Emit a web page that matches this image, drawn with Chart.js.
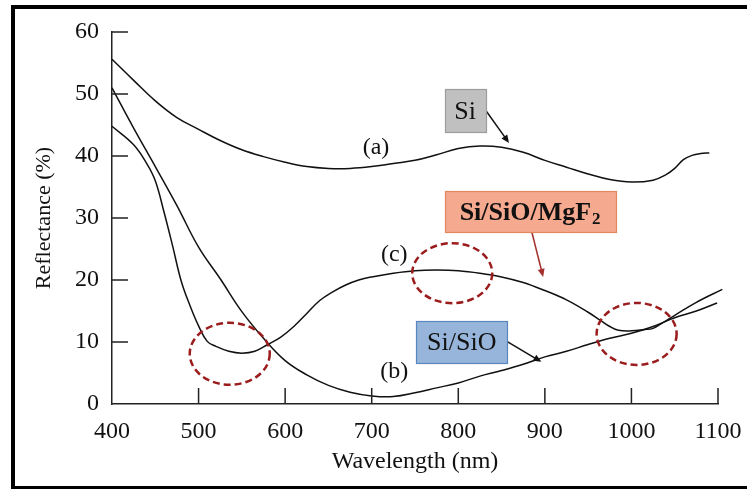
<!DOCTYPE html>
<html><head><meta charset="utf-8">
<script src="https://cdn.jsdelivr.net/npm/chart.js@4.4.0/dist/chart.umd.min.js"></script>
<style>html,body{margin:0;padding:0;background:#fff;overflow:hidden}canvas{display:block}</style>
</head><body>
<canvas id="c" width="747" height="489"></canvas>
<script>
// ---- data ----
const xTicks = [400, 500, 600, 700, 800, 900, 1000, 1100];
const yTicks = [0, 10, 20, 30, 40, 50, 60];

const wavelengthA = [400,425,450,475,500,525,550,575,600,625,650,675,700,725,750,775,800,825,850,875,900,925,950,975,1000,1025,1040,1050,1060,1070,1080,1090];
const reflectA    = [55.6,52.2,48.9,46.2,44.3,42.5,41.0,39.9,39.0,38.3,38.0,38.0,38.3,38.8,39.3,40.2,41.2,41.6,41.4,40.6,39.3,38.2,37.1,36.2,35.8,36.1,37.0,38.0,39.4,40.1,40.4,40.5];

const wavelengthB = [400,425,450,475,500,525,550,575,600,625,650,675,700,725,750,775,800,825,850,875,900,925,950,975,1000,1025,1050,1075,1099];
const reflectB    = [51.0,44.5,38.3,32.0,25.3,20.2,14.9,10.6,7.0,4.7,3.0,1.9,1.3,1.2,1.8,2.6,3.4,4.5,5.4,6.4,7.6,8.5,9.6,10.6,11.4,12.5,13.9,15.0,16.3];

const wavelengthC = [400,425,440,450,460,470,480,490,500,510,520,535,550,565,580,595,610,625,640,655,670,685,700,725,750,775,800,825,850,875,900,925,950,965,975,985,1000,1015,1025,1035,1050,1075,1105];
const reflectC    = [44.8,41.8,38.8,36.0,31.0,25.5,19.8,15.9,12.6,10.1,9.3,8.5,8.2,8.5,9.6,10.8,12.5,14.6,16.7,18.1,19.2,20.0,20.5,21.1,21.5,21.6,21.5,21.1,20.5,19.6,18.3,16.8,14.8,13.4,12.5,11.9,11.8,12.0,12.2,13.0,14.3,16.4,18.5];

const curveLabels = ['(a)', '(b)', '(c)'];
const boxLabels = ['Si', 'Si/SiO', 'Si/SiO/MgF'];

// ---- annotation layout (data coordinates for anchors) ----
const SERIF = "'Liberation Serif','Times New Roman',serif";
const labelPos = [{x:705,y:41.3},{x:726,y:5.2},{x:726,y:24.0}];
const ellipses = [{x:536,y:8.1,rx:40,ry:31},{x:793,y:21.1,rx:40,ry:30},{x:1006,y:11.3,rx:40,ry:31}];
const boxes = [
  {text:boxLabels[0], x:808, y:47.3, w:41, h:43, fill:'#c0c0c0', stroke:'#9c9c9c', font:'26px '+SERIF},
  {text:boxLabels[1], x:804, y:10.0, w:91, h:42, fill:'#97b5db', stroke:'#5a86bf', font:'26px '+SERIF},
  {text:boxLabels[2], sub:'2', x:883, y:31.0, w:171, h:41, fill:'#f5a98f', stroke:'#e2875f', font:'bold 26px '+SERIF, subFont:'bold 17px '+SERIF}
];
const arrows = [
  {x1:832, y1:47.3, x2:858.6, y2:42.1, color:'#111'},
  {x1:856.6, y1:10.05, x2:896, y2:6.8, color:'#111'},
  {x1:885, y1:27.7, x2:898, y2:20.5, color:'#a3302b'}
];

const toPts = (xs, ys) => xs.map((x, i) => ({x, y: ys[i]}));

const decor = {
  id: 'decor',
  beforeDraw(chart) {
    const ctx = chart.ctx;
    ctx.save();
    ctx.fillStyle = '#fff';
    ctx.fillRect(0, 0, chart.width, chart.height);
    ctx.fillStyle = '#000';
    ctx.fillRect(11, 5, chart.width - 11, 4);
    ctx.fillRect(11, 5, 4, chart.height - 5);
    ctx.fillRect(11, chart.height - 3, chart.width - 11, 3);
    ctx.restore();
  },
  afterDraw(chart) {
    const ctx = chart.ctx;
    const xs = chart.scales.x, ys = chart.scales.y;
    const X = v => xs.getPixelForValue(v), Y = v => ys.getPixelForValue(v);
    ctx.save();
    // inward tick marks
    ctx.strokeStyle = '#222';
    ctx.lineWidth = 1.5;
    ctx.beginPath();
    xTicks.slice(1).forEach(t => { ctx.moveTo(X(t), Y(0)); ctx.lineTo(X(t), Y(0) - 16); });
    yTicks.slice(1).forEach(t => { ctx.moveTo(X(400), Y(t)); ctx.lineTo(X(400) + 16, Y(t)); });
    ctx.stroke();

    // curve labels
    ctx.fillStyle = '#111';
    ctx.font = '24px ' + SERIF;
    ctx.textAlign = 'center';
    ctx.textBaseline = 'middle';
    curveLabels.forEach((t, i) => ctx.fillText(t, X(labelPos[i].x), Y(labelPos[i].y)));

    // dashed ellipses
    ctx.strokeStyle = '#9b1c1c';
    ctx.lineWidth = 2.5;
    ctx.setLineDash([7, 4]);
    ellipses.forEach(e => {
      ctx.beginPath();
      ctx.ellipse(X(e.x), Y(e.y), e.rx, e.ry, 0, 0, Math.PI * 2);
      ctx.stroke();
    });
    ctx.setLineDash([]);

    // arrows
    arrows.forEach(a => {
      const x1 = X(a.x1), y1 = Y(a.y1), x2 = X(a.x2), y2 = Y(a.y2);
      const ang = Math.atan2(y2 - y1, x2 - x1);
      ctx.strokeStyle = a.color; ctx.fillStyle = a.color; ctx.lineWidth = 1.5;
      ctx.beginPath(); ctx.moveTo(x1, y1); ctx.lineTo(x2 - 5 * Math.cos(ang), y2 - 5 * Math.sin(ang)); ctx.stroke();
      ctx.beginPath();
      ctx.moveTo(x2, y2);
      ctx.lineTo(x2 - 8 * Math.cos(ang) + 3.5 * Math.sin(ang), y2 - 8 * Math.sin(ang) - 3.5 * Math.cos(ang));
      ctx.lineTo(x2 - 8 * Math.cos(ang) - 3.5 * Math.sin(ang), y2 - 8 * Math.sin(ang) + 3.5 * Math.cos(ang));
      ctx.closePath(); ctx.fill();
    });

    // boxes
    boxes.forEach(b => {
      const cx = X(b.x), cy = Y(b.y);
      const l = Math.round(cx - b.w / 2) + 0.5, t = Math.round(cy - b.h / 2) + 0.5;
      ctx.fillStyle = b.fill; ctx.fillRect(l, t, b.w, b.h);
      ctx.strokeStyle = b.stroke; ctx.lineWidth = 1.2; ctx.strokeRect(l, t, b.w, b.h);
      ctx.fillStyle = '#111';
      ctx.textBaseline = 'middle';
      ctx.font = b.font;
      const w1 = ctx.measureText(b.text).width;
      let w2 = 0;
      if (b.sub) { ctx.font = b.subFont; w2 = ctx.measureText(b.sub).width + 1; }
      const sx = cx - (w1 + w2) / 2;
      ctx.font = b.font; ctx.textAlign = 'left';
      ctx.fillText(b.text, sx, cy + 1);
      if (b.sub) { ctx.font = b.subFont; ctx.fillText(b.sub, sx + w1 + 1, cy + 8); }
    });
    ctx.restore();
  }
};

const lineStyle = {borderColor:'#111', borderWidth:1.5, pointRadius:0, fill:false, tension:0.4, clip:false};

new Chart(document.getElementById('c'), {
  type: 'line',
  data: {
    datasets: [
      Object.assign({label:'Si (a)', data: toPts(wavelengthA, reflectA)}, lineStyle),
      Object.assign({label:'Si/SiO (b)', data: toPts(wavelengthB, reflectB)}, lineStyle),
      Object.assign({label:'Si/SiO/MgF2 (c)', data: toPts(wavelengthC, reflectC)}, lineStyle)
    ]
  },
  options: {
    responsive: false,
    devicePixelRatio: 1,
    animation: false,
    layout: {padding: {left: 0, right: 0, top: 32, bottom: 0}},
    plugins: {legend: {display: false}, tooltip: {enabled: false}},
    scales: {
      x: {
        type: 'linear', min: 400, max: 1100,
        afterBuildTicks: s => { s.ticks = xTicks.map(v => ({value: v})); },
        afterFit: s => { s.height = 85; s.paddingLeft = 0; s.paddingRight = 29; },
        grid: {display: false, drawTicks: false},
        border: {display: true, color: '#222', width: 1.5},
        ticks: {color: '#111', padding: 13, maxRotation: 0, font: {family: SERIF, size: 24}, callback: v => String(v)},
        title: {display: true, text: 'Wavelength (nm)', color: '#111', font: {family: SERIF, size: 24}, padding: {top: 0, bottom: 13}}
      },
      y: {
        min: 0, max: 60,
        afterBuildTicks: s => { s.ticks = yTicks.map(v => ({value: v})); },
        afterFit: s => { s.width = 112; },
        grid: {display: false, drawTicks: false},
        border: {display: true, color: '#222', width: 1.5},
        ticks: {color: '#111', padding: 13, font: {family: SERIF, size: 24}, callback: v => String(v)},
        title: {display: true, text: 'Reflectance (%)', color: '#111', font: {family: SERIF, size: 22}, padding: {top: 31, bottom: 0}}
      }
    }
  },
  plugins: [decor]
});
</script></body></html>
